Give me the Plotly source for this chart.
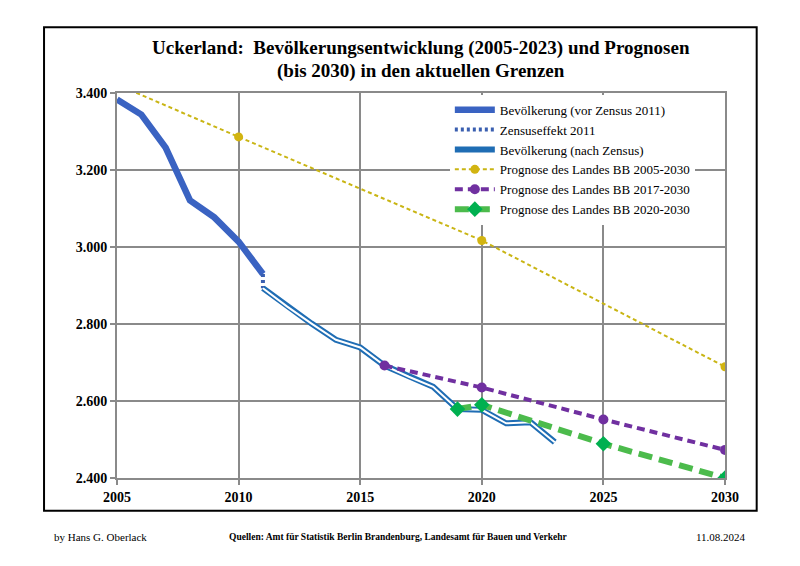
import plotly.graph_objects as go

# ---------------- data ----------------
years_vor = [2005, 2006, 2007, 2008, 2009, 2010, 2011]
pop_vor = [3383, 3344, 3258, 3121, 3077, 3014, 2930]

census_years = [2011, 2011]
census_pop = [2930, 2893]

years_nach = [2011, 2012, 2013, 2014, 2015, 2016, 2017, 2018, 2019, 2020, 2021, 2022, 2023]
pop_nach = [2893, 2845, 2801, 2759, 2739, 2692, 2663, 2637, 2579, 2577, 2542, 2545, 2493]

years_p2005 = [2005, 2010, 2020, 2030]
pop_p2005 = [3422, 3286, 3017, 2689]

years_p2017 = [2016, 2020, 2025, 2030]
pop_p2017 = [2692, 2635, 2552, 2473]

years_p2020 = [2019, 2020, 2025, 2030]
pop_p2020 = [2579, 2590, 2489, 2400]

x_ticks = [2005, 2010, 2015, 2020, 2025, 2030]
y_ticks = [2400, 2600, 2800, 3000, 3200, 3400]
y_ticklabels = ["2.400", "2.600", "2.800", "3.000", "3.200", "3.400"]

names = ["Bevölkerung (vor Zensus 2011)", "Zensuseffekt 2011", "Bevölkerung (nach Zensus)",
         "Prognose des Landes BB 2005-2030", "Prognose des Landes BB 2017-2030",
         "Prognose des Landes BB 2020-2030"]

# ---------------- layout geometry (pixels, page coordinates) ----------------
O = 8  # default body margin of the html page
W, H = 800 - 2 * O, 566 - 2 * O
L, R, T, B = 117, 725.3, 93.3, 478.3


def px(x):
    return (x - L) / (R - L)


def py(y):
    return (B - y) / (B - T)


SERIF = "Liberation Serif, DejaVu Serif, serif"

fig = go.Figure()

fig.add_trace(go.Scatter(x=years_p2005, y=pop_p2005, name=names[3], mode="lines+markers",
                         line=dict(color="#c9b514", width=2, dash="4px,3px"),
                         marker=dict(color="#d2b411", size=9), legendrank=4))
fig.add_trace(go.Scatter(x=years_vor, y=pop_vor, name=names[0], mode="lines",
                         line=dict(color="#3a63c2", width=6.5), legendrank=1))
fig.add_trace(go.Scatter(x=census_years, y=census_pop, name=names[1], mode="lines",
                         line=dict(color="#3a5fb0", width=4, dash="3px,3px"), legendrank=2))
fig.add_trace(go.Scatter(x=years_nach, y=pop_nach, name=names[2], mode="lines",
                         line=dict(color="#1f6db4", width=6), legendrank=3))
fig.add_trace(go.Scatter(x=years_nach, y=pop_nach, mode="lines", showlegend=False,
                         line=dict(color="white", width=2), hoverinfo="skip"))
fig.add_trace(go.Scatter(x=years_p2017, y=pop_p2017, name=names[4], mode="lines+markers",
                         line=dict(color="#7030a0", width=4, dash="8px,5px"),
                         marker=dict(color="#7030a0", size=10), legendrank=5))
fig.add_trace(go.Scatter(x=years_p2020, y=pop_p2020, name=names[5], mode="lines+markers",
                         line=dict(color="#4cbb4c", width=6, dash="14px,7px"),
                         marker=dict(color="#00b050", size=12, symbol="diamond"), legendrank=6))

grid = "#8a8a8a"
fig.update_layout(
    width=W, height=H,
    margin=dict(l=L - O, r=W + O - R, t=T - O, b=H + O - B),
    paper_bgcolor="white", plot_bgcolor="white",
    font=dict(family=SERIF, color="black"),
    showlegend=True,
    legend=dict(x=px(450), y=py(95), xanchor="left", yanchor="top",
                bgcolor="white", borderwidth=0, font=dict(size=13, family=SERIF),
                traceorder="normal", itemwidth=40),
    xaxis=dict(range=[2005, 2030], tickvals=x_ticks, showgrid=True, gridcolor=grid, gridwidth=2,
               showline=True, linecolor=grid, linewidth=2, mirror=True,
               ticks="outside", ticklen=5, tickcolor=grid, tickwidth=2,
               tickfont=dict(size=14, family=SERIF, weight="bold"), zeroline=False),
    yaxis=dict(range=[2400, 3400], tickvals=y_ticks, ticktext=y_ticklabels, showgrid=True,
               gridcolor=grid, gridwidth=2, showline=True, linecolor=grid, linewidth=2, mirror=True,
               ticks="outside", ticklen=5, tickcolor=grid, tickwidth=2,
               tickfont=dict(size=14, family=SERIF, weight="bold"), zeroline=False),
    shapes=[dict(type="rect", xref="paper", yref="paper",
                 x0=px(44), x1=px(757), y0=py(511), y1=py(27.5),
                 line=dict(color="black", width=2), fillcolor="rgba(0,0,0,0)", layer="above")],
    annotations=[
        dict(text="<b>Uckerland:  Bevölkerungsentwicklung (2005-2023) und Prognosen</b>",
             xref="paper", yref="paper", x=px(421), y=py(48), xanchor="center", yanchor="middle",
             showarrow=False, font=dict(size=19, family=SERIF)),
        dict(text="<b>(bis 2030) in den aktuellen Grenzen</b>",
             xref="paper", yref="paper", x=px(421), y=py(71), xanchor="center", yanchor="middle",
             showarrow=False, font=dict(size=19, family=SERIF)),
        dict(text="by Hans G. Oberlack", xref="paper", yref="paper", x=px(52), y=py(537),
             xanchor="left", yanchor="middle", showarrow=False, font=dict(size=11, family=SERIF)),
        dict(text="<b>Quellen: Amt für Statistik Berlin Brandenburg, Landesamt für Bauen und Verkehr</b>",
             xref="paper", yref="paper", x=px(399), y=py(537), xanchor="center", yanchor="middle",
             showarrow=False, font=dict(size=9.5, family=SERIF)),
        dict(text="11.08.2024", xref="paper", yref="paper", x=px(748), y=py(537),
             xanchor="right", yanchor="middle", showarrow=False, font=dict(size=11, family=SERIF)),
    ],
)

fig.write_html("out.html")
